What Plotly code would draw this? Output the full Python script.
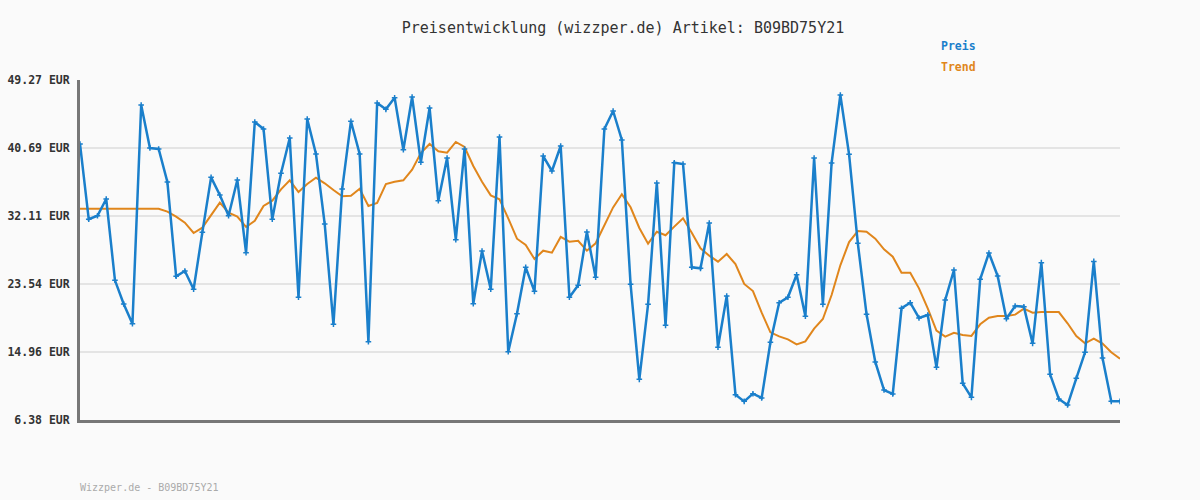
import plotly.graph_objects as go

preis = [41.20, 31.70, 32.15, 34.26, 24.00, 21.01, 18.53, 46.12, 40.69, 40.57,
         36.40, 24.51, 25.18, 22.87, 30.05, 36.99, 34.76, 32.15, 36.66, 27.49,
         43.97, 43.09, 31.70, 37.50, 41.95, 21.86, 44.35, 39.93, 31.10, 18.45,
         35.52, 44.06, 39.93, 16.26, 46.37, 45.57, 47.04, 40.48, 47.13, 38.89,
         45.74, 34.04, 39.43, 29.13, 40.57, 21.05, 27.70, 22.87, 42.08, 15.00,
         19.79, 25.64, 22.61, 39.68, 37.79, 40.94, 21.86, 23.37, 30.10, 24.38,
         43.09, 45.36, 41.70, 23.50, 11.51, 20.97, 36.28, 18.32, 38.84, 38.67,
         25.64, 25.51, 31.23, 15.55, 22.02, 9.57, 8.73, 9.70, 9.16, 16.18,
         21.18, 21.86, 24.71, 19.46, 39.43, 20.97, 38.80, 47.38, 39.90, 28.67,
         19.71, 13.70, 10.16, 9.66, 20.47, 21.18, 19.25, 19.63, 13.03, 21.52,
         25.30, 11.01, 9.24, 24.13, 27.45, 24.55, 19.16, 20.76, 20.67, 16.05,
         26.23, 12.14, 9.03, 8.27, 11.64, 14.92, 26.39, 14.20, 8.73, 8.73]

trend = [33.03, 33.03, 33.03, 33.03, 33.03, 33.03, 33.03, 33.03, 33.03, 33.03,
         32.66, 32.03, 31.27, 29.97, 30.64, 32.24, 33.79, 32.53, 32.03, 30.73,
         31.52, 33.38, 34.04, 35.48, 36.62, 35.14, 36.15, 36.95, 36.24, 35.39,
         34.60, 34.68, 35.56, 33.38, 33.75, 36.15, 36.44, 36.62, 37.96, 40.06,
         41.20, 40.27, 40.10, 41.45, 40.82, 38.42, 36.44, 34.72, 34.22, 31.82,
         29.25, 28.46, 26.69, 27.74, 27.49, 29.47, 28.87, 28.99, 27.74, 28.67,
         31.02, 33.20, 34.85, 33.21, 30.60, 28.62, 30.13, 29.68, 30.77, 31.82,
         30.01, 28.04, 27.11, 26.35, 27.32, 26.06, 23.54, 22.65, 19.92, 17.44,
         16.93, 16.55, 15.92, 16.30, 17.90, 19.12, 22.15, 25.89, 28.83, 30.22,
         30.13, 29.25, 27.91, 26.98, 24.96, 24.96, 22.99, 20.47, 17.65, 16.89,
         17.39, 17.10, 16.98, 18.45, 19.29, 19.50, 19.50, 19.67, 20.42, 19.92,
         20.00, 20.00, 20.00, 18.58, 16.98, 16.05, 16.64, 16.01, 14.92, 14.11]

tick_vals = [6.38, 14.96, 23.54, 32.11, 40.69, 49.27]
tick_text = ["6.38 EUR", "14.96 EUR", "23.54 EUR", "32.11 EUR", "40.69 EUR", "49.27 EUR"]

x = list(range(len(preis)))
BLUE = "#1a7fcb"
ORANGE = "#e0861c"
MONO = "DejaVu Sans Mono"

W, H = 1200, 500
L, R, T, B = 80, 80, 80, 80
PW, PH = W - L - R, H - T - B


def px_to_paper(px, py):
    return (px - L) / PW, (H - B - py) / PH


fig = go.Figure()
fig.add_trace(go.Scatter(x=x, y=trend, mode="lines", name="Trend",
                         line=dict(color=ORANGE, width=2), hoverinfo="skip"))
fig.add_trace(go.Scatter(x=x, y=preis, mode="lines+markers", name="Preis",
                         line=dict(color=BLUE, width=2.5),
                         marker=dict(symbol="cross-thin", size=4,
                                     line=dict(color=BLUE, width=1.5))))

maxlen = max(len(t) for t in tick_text)
padded = ["\u00a0" * (maxlen - len(t)) + t for t in tick_text]

fig.update_layout(
    width=W, height=H,
    margin=dict(l=L, r=R, t=T, b=B, autoexpand=False),
    paper_bgcolor="#fafafa", plot_bgcolor="#fafafa",
    showlegend=False,
    title=dict(text="Preisentwicklung (wizzper.de) Artikel: B09BD75Y21",
               x=623 / W, xanchor="center", y=1 - 28 / H, yanchor="middle",
               font=dict(family=MONO, size=15, color="#333333")),
    xaxis=dict(range=[0, len(preis) - 1], showgrid=False, zeroline=False,
               showticklabels=False, ticks="", showline=True, automargin=False,
               linecolor="#777777", linewidth=3),
    yaxis=dict(range=[tick_vals[0], tick_vals[-1]], tickvals=tick_vals,
               ticktext=padded, showgrid=True, gridcolor="#e4e4e4", gridwidth=2,
               zeroline=False, ticks="", showline=True, linecolor="#777777",
               linewidth=3, ticklabelstandoff=5, automargin=False,
               tickfont=dict(family=MONO, size=11.5, color="#333333", weight="bold")),
)

px_, py_ = px_to_paper(939, 46)
fig.add_annotation(text="<b>Preis</b>", x=px_, y=py_, xref="paper", yref="paper",
                   xanchor="left", yanchor="middle", showarrow=False,
                   font=dict(family=MONO, size=11.5, color=BLUE))
px_, py_ = px_to_paper(939, 67)
fig.add_annotation(text="<b>Trend</b>", x=px_, y=py_, xref="paper", yref="paper",
                   xanchor="left", yanchor="middle", showarrow=False,
                   font=dict(family=MONO, size=11.5, color=ORANGE))
px_, py_ = px_to_paper(78, 487)
fig.add_annotation(text="Wizzper.de - B09BD75Y21", x=px_, y=py_,
                   xref="paper", yref="paper", xanchor="left", yanchor="middle",
                   showarrow=False, font=dict(family=MONO, size=10, color="#aaaaaa"))

fig.write_html("out.html")
